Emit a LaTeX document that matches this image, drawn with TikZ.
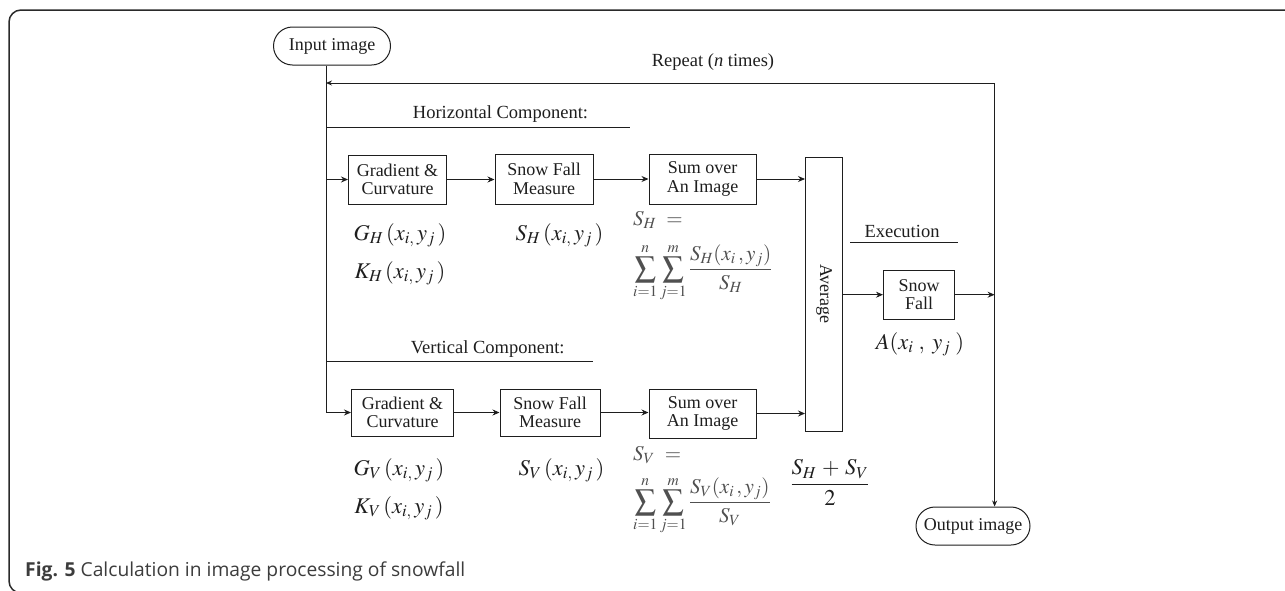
\documentclass[tikz,border=0pt]{standalone}
\usepackage{mathptmx}
\usepackage[no-math]{fontspec}
\setmainfont{Liberation Serif}
\newfontfamily\capfont{Open Sans}
\usetikzlibrary{arrows.meta,calc}
\definecolor{ink}{HTML}{1E1E1E}
\definecolor{fgray}{HTML}{505050}
\definecolor{capgray}{HTML}{3C3C3C}
\definecolor{frm}{HTML}{2A2A2A}
\begin{document}
\begin{tikzpicture}[x=1pt,y=-1pt,
  box/.style={draw=ink, line width=1pt, fill=white, inner sep=0pt, align=center,
    font=\fontsize{18}{18.5}\selectfont, text=ink},
  pill/.style={box, rounded corners=19pt},
  arr/.style={draw=ink, line width=0.9pt, -{Stealth[length=7pt,width=6pt]}},
  thinarr/.style={draw=ink, line width=0.6pt, -{Stealth[length=6pt,width=5pt]}},
  ul/.style={draw=ink, line width=0.9pt},
  lbl/.style={text=ink, font=\fontsize{18.5}{20}\selectfont, inner sep=0pt},
  mlbl/.style={text=ink, font=\fontsize{22.5}{24}\selectfont, inner sep=0pt},
  fml/.style={text=fgray, font=\fontsize{21}{24}\selectfont, inner sep=0pt},
]
\useasboundingbox (0,0) rectangle (1285,590);
% frame
\draw[draw=frm, line width=1.5pt, rounded corners=12pt] (1300,10) -- (9,10) -- (9,593) -- (60,593);

% nodes
\node[pill, minimum width=117pt, minimum height=38pt] (in) at (332,46) {Input image};
\node[box, minimum width=98pt, minimum height=49pt] (gh) at (397.5,179.5) {Gradient \&\\Curvature};
\node[box, minimum width=98pt, minimum height=50pt] (sh) at (544,179) {Snow Fall\\Measure};
\node[box, minimum width=107pt, minimum height=50pt] (uh) at (702.5,179) {Sum over\\An Image};
\node[box, minimum width=37pt, minimum height=274pt] (avg) at (824,294) {\rotatebox{-90}{Average}};
\node[box, minimum width=71pt, minimum height=49pt] (sf) at (919,294.7) {Snow\\Fall};
\node[box, minimum width=102pt, minimum height=47pt] (gv) at (402.5,412.5) {Gradient \&\\Curvature};
\node[box, minimum width=100pt, minimum height=47pt] (sv) at (550,412.5) {Snow Fall\\Measure};
\node[box, minimum width=107pt, minimum height=49pt] (uv) at (702.5,413.5) {Sum over\\An Image};
\node[pill, minimum width=114pt, minimum height=38pt] (out) at (973,526) {Output image};

\coordinate (tr) at (326,83);
\coordinate (rc) at (994.6,83);
\coordinate (hu) at (630,127);
\coordinate (vu) at (593,361);
\coordinate (ea) at (850,242);
\coordinate (eb) at (957.6,242);

% connectors
\draw[arr] (in.south -| tr) |- (gv.west);
\draw[arr] (tr |- gh.west) -- (gh.west);
\draw[arr] (gh.east) -- (gh.east -| sh.west);
\draw[arr] (sh.east) -- (sh.east -| uh.west);
\draw[arr] (uh.east) -- (uh.east -| avg.west);
\draw[arr] (gv.east) -- (gv.east -| sv.west);
\draw[arr] (sv.east) -- (sv.east -| uv.west);
\draw[arr] (uv.east) -- (uv.east -| avg.west);
\draw[arr] (avg.east |- sf.west) -- (sf.west);
\draw[arr] (sf.east) -- (sf.east -| rc);
\draw[thinarr, line width=0.9pt] (rc) -- (tr);
\draw[thinarr] (rc) -- (out.north -| rc);

% underlines
\draw[ul] (tr |- hu) -- (hu);
\draw[ul] (tr |- vu) -- (vu);
\draw[ul] (ea) -- (eb);

% labels
\node[lbl] (rep) at (713,62) {Repeat (\textit{n} times)};
\node[lbl] (hc) at (500.5,114) {Horizontal Component:};
\node[lbl] (vc) at (487.7,349) {Vertical Component:};
\node[lbl] (ex) at (902,231) {Execution};

\node[mlbl, anchor=base] (ghl) at (400,240) {$G_H\,(x_{i,}\,y_j\,)$};
\node[mlbl, anchor=base] (khl) at (400,278) {$K_H\,(x_{i,}\,y_j\,)$};
\node[mlbl, anchor=base] (shl) at (559.5,240) {$S_H\,(x_{i,}\,y_j\,)$};
\node[mlbl, anchor=base] (gvl) at (399,475) {$G_V\,(x_{i,}\,y_j\,)$};
\node[mlbl, anchor=base] (kvl) at (399,513) {$K_V\,(x_{i,}\,y_j\,)$};
\node[mlbl, anchor=base] (svl) at (561.5,475) {$S_V\,(x_{i,}\,y_j\,)$};
\node[mlbl, anchor=base] (al) at (920,349) {$A(x_i\;,\; y_j\;)$};

\node[fml, anchor=base west] (she) at (633,225) {$S_H\ =$};
\node[fml, anchor=base west] (shs) at (633,275) {$\displaystyle\sum_{i=1}^{n}\sum_{j=1}^{m}\frac{S_H(x_i\,,y_j)}{S_H}$};
\node[fml, anchor=base west] (sve) at (633,460) {$S_V\ =$};
\node[fml, anchor=base west] (svs) at (633,508) {$\displaystyle\sum_{i=1}^{n}\sum_{j=1}^{m}\frac{S_V(x_i\,,y_j)}{S_V}$};
\node[mlbl, anchor=base] (avf) at (830,490) {$\displaystyle\frac{S_H\,+\,S_V}{2}$};

% caption
\node[anchor=base west, inner sep=0pt, text=capgray, font=\capfont\fontsize{19}{20}\selectfont] (cap) at (25,576)
  {\resizebox{440pt}{!}{\textbf{Fig. 5} Calculation in image processing of snowfall}};
\end{tikzpicture}
\end{document}
